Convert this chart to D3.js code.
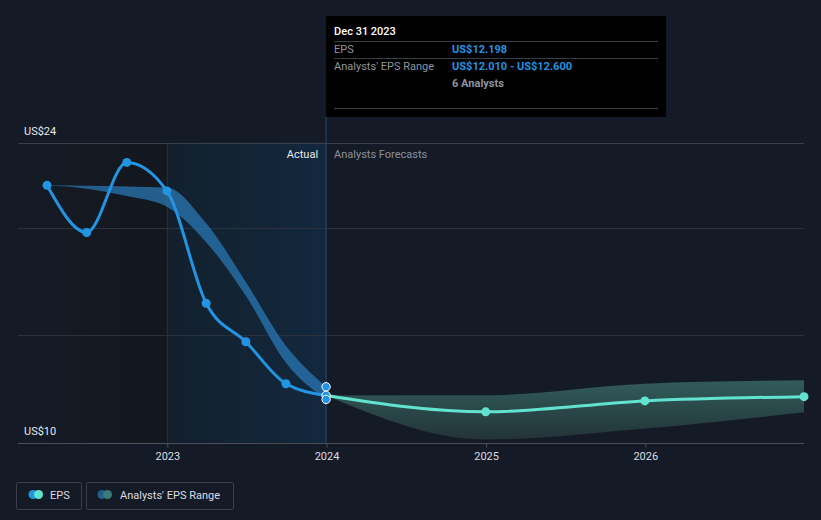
<!DOCTYPE html>
<html><head><meta charset="utf-8">
<script src="https://cdn.jsdelivr.net/npm/d3@7"></script>
<style>
html,body{margin:0;padding:0;background:#151b26;}
svg{display:block;font-family:Roboto,"Noto Sans",sans-serif;}
</style></head>
<body>
<svg id="c" width="821" height="520"></svg>
<script>
// ---- data ----
const pastDates = ["2022-03-31","2022-06-30","2022-09-30","2022-12-31","2023-03-31","2023-06-30","2023-09-30","2023-12-31"];
const pastEPS   = [22.0, 19.8, 23.07, 21.74, 16.5, 14.7, 12.74, 12.198];
const pastRangeLow  = [22.0, 21.84, 21.5, 21.0, 19.35, 16.85, 13.72, 12.01];
const pastRangeHigh = [22.0, 21.98, 21.95, 21.9, 20.23, 17.49, 14.51, 12.6];
const fcDates = ["2023-12-31","2024-12-31","2025-12-31","2026-12-31"];
const fcEPS   = [12.198, 11.43, 11.94, 12.14];
const fcLow   = [12.198, 10.14, 10.65, 11.41];
const fcHigh  = [12.198, 12.2, 12.74, 12.9];
const xTickYears = ["2023","2024","2025","2026"];
const yTicks = [10, 15, 20, 24];
const yLabels = ["US$24","US$10"];
const tipDate = "2023-12-31";
const tipMarkers = [12.6, 12.198, 12.01];

const parse = d3.timeParse("%Y-%m-%d");
const svg = d3.select("#c");
const x = d3.scaleTime().domain([parse("2022-03-31"), parse("2026-12-31")]).range([47, 804]);
const y = d3.scaleLinear().domain([10, 24]).range([442.5, 142.5]);
const left = 18, right = 804;
const tipX = x(parse(tipDate));

const defs = svg.append("defs");
const g1 = defs.append("linearGradient").attr("id","pastBg").attr("x1","0").attr("x2","1");
g1.append("stop").attr("offset","0").attr("stop-color","#151b25");
g1.append("stop").attr("offset","1").attr("stop-color","#13171e");
const g2 = defs.append("linearGradient").attr("id","actBg").attr("x1","0").attr("x2","1");
g2.append("stop").attr("offset","0").attr("stop-color","#12202d");
g2.append("stop").attr("offset","1").attr("stop-color","#13283e");
const g3 = defs.append("linearGradient").attr("id","fcBand").attr("x1","0").attr("x2","0").attr("y1","0").attr("y2","1");
g3.append("stop").attr("offset","0").attr("stop-color","#33605d");
g3.append("stop").attr("offset","1").attr("stop-color","#233538");

const x23 = x(parse("2023-01-01"));
// backgrounds
svg.append("rect").attr("x", left).attr("y", y(24)).attr("width", x23 - left).attr("height", y(10) - y(24)).attr("fill","url(#pastBg)");
svg.append("rect").attr("x", x23).attr("y", y(24)).attr("width", tipX - x23).attr("height", y(10) - y(24)).attr("fill","url(#actBg)");
svg.append("line").attr("x1", x23).attr("x2", x23).attr("y1", y(24)).attr("y2", y(10)).attr("stroke","#1d3550").attr("stroke-width",1);

// gridlines
yTicks.filter(v => v !== 10).forEach(v => {
  svg.append("line").attr("x1", left).attr("x2", right).attr("y1", Math.round(y(v))+0.5).attr("y2", Math.round(y(v))+0.5)
    .attr("stroke", v === 24 ? "#3a404b" : "#2a313c").attr("stroke-width",1);
});

// x axis
const xAxis = d3.axisBottom(x).tickValues(xTickYears.map(s => parse(s + "-01-01"))).tickFormat(d3.timeFormat("%Y")).tickSize(4).tickSizeOuter(0);
const ax = svg.append("g").attr("transform", `translate(0,${Math.round(y(10))+0.5})`).call(xAxis);
ax.select(".domain").remove();
ax.selectAll(".tick line").attr("stroke","#4a505b");
ax.selectAll(".tick text").attr("fill","#d9dce0").attr("font-size","11px").attr("font-family","Roboto,sans-serif").attr("dy","0.9em");
svg.append("line").attr("x1", left).attr("x2", right).attr("y1", Math.round(y(10))+0.5).attr("y2", Math.round(y(10))+0.5).attr("stroke","#4a505b");

// y labels
svg.append("text").attr("x",24).attr("y", y(24) - 8).attr("fill","#e6e8ea").attr("font-size","11px").text(yLabels[0]);
svg.append("text").attr("x",24).attr("y", y(10) - 8).attr("fill","#e6e8ea").attr("font-size","11px").text(yLabels[1]);

// tooltip vertical line
svg.append("line").attr("x1", tipX).attr("x2", tipX).attr("y1", 117).attr("y2", y(10)).attr("stroke","#2a4a6b").attr("stroke-width",1);

// labels Actual / Forecast
svg.append("text").attr("x", tipX - 8).attr("y", 158).attr("text-anchor","end").attr("fill","#e8eaec").attr("font-size","11px").text("Actual");
svg.append("text").attr("x", tipX + 8).attr("y", 158).attr("fill","#8b9099").attr("font-size","11px").text("Analysts Forecasts");

// bands
const area = d3.area().x(d => x(d.d)).y0(d => y(d.lo)).y1(d => y(d.hi)).curve(d3.curveMonotoneX);
const pastBand = pastDates.map((s,i) => ({d: parse(s), lo: pastRangeLow[i], hi: pastRangeHigh[i]}));
svg.append("path").datum(pastBand).attr("d", area).attr("fill","#2a7ab8").attr("fill-opacity",0.72);
const fcBand = fcDates.map((s,i) => ({d: parse(s), lo: fcLow[i], hi: fcHigh[i]}));
svg.append("path").datum(fcBand).attr("d", area).attr("fill","url(#fcBand)").attr("fill-opacity",0.95);

// lines
const line = d3.line().x(d => x(d.d)).y(d => y(d.v)).curve(d3.curveMonotoneX);
const pastPts = pastDates.map((s,i) => ({d: parse(s), v: pastEPS[i]}));
const fcPts = fcDates.map((s,i) => ({d: parse(s), v: fcEPS[i]}));
svg.append("path").datum(fcPts).attr("d", line).attr("fill","none").attr("stroke","#62e3cf").attr("stroke-width",3);
svg.append("path").datum(pastPts).attr("d", line).attr("fill","none").attr("stroke","#2394e1").attr("stroke-width",3);

svg.selectAll(".pp").data(pastPts.slice(0, -1)).enter().append("circle")
  .attr("cx", d => x(d.d)).attr("cy", d => y(d.v)).attr("r",4.5).attr("fill","#2394e1");
svg.selectAll(".fp").data(fcPts.slice(1)).enter().append("circle")
  .attr("cx", d => x(d.d)).attr("cy", d => y(d.v)).attr("r",4.5).attr("fill","#62e3cf");
svg.selectAll(".tp").data(tipMarkers).enter().append("circle")
  .attr("cx", tipX).attr("cy", d => y(d)).attr("r",4.2).attr("fill","#2394e1").attr("stroke","#ffffff").attr("stroke-width",1);

// tooltip box
const tb = svg.append("g");
tb.append("rect").attr("x", tipX).attr("y",16).attr("width",340).attr("height",101).attr("fill","#000000");
tb.append("text").attr("x", tipX+8).attr("y",35).attr("fill","#ffffff").attr("font-size","11px").attr("font-weight",500).text("Dec 31 2023");
[41.5, 58.5, 108.5].forEach(yy => tb.append("line").attr("x1", tipX+8).attr("x2", tipX+332).attr("y1",yy).attr("y2",yy).attr("stroke","#3b3e44"));
tb.append("text").attr("x", tipX+8).attr("y",53).attr("fill","#8f949b").attr("font-size","11px").text("EPS");
tb.append("text").attr("x", tipX+126).attr("y",53).attr("fill","#2394e1").attr("font-size","11px").attr("font-weight",700).text("US$12.198");
tb.append("text").attr("x", tipX+8).attr("y",70).attr("fill","#8f949b").attr("font-size","11px").text("Analysts' EPS Range");
tb.append("text").attr("x", tipX+126).attr("y",70).attr("fill","#2394e1").attr("font-size","11px").attr("font-weight",700).text("US$12.010 - US$12.600");
tb.append("text").attr("x", tipX+126).attr("y",87).attr("fill","#8f949b").attr("font-size","11px").attr("font-weight",700).text("6 Analysts");

// legend
const lg = svg.append("g");
lg.append("rect").attr("x",16.5).attr("y",482.5).attr("width",65).attr("height",27).attr("rx",2).attr("fill","none").attr("stroke","#3a404b");
lg.append("circle").attr("cx",33).attr("cy",494.5).attr("r",4.5).attr("fill","#2394e1");
lg.append("circle").attr("cx",38.5).attr("cy",494.5).attr("r",4.5).attr("fill","#62e3cf");
lg.append("text").attr("x",50).attr("y",498.5).attr("fill","#d9dce0").attr("font-size","11px").text("EPS");
lg.append("rect").attr("x",86.5).attr("y",482.5).attr("width",147).attr("height",27).attr("rx",2).attr("fill","none").attr("stroke","#3a404b");
lg.append("circle").attr("cx",102).attr("cy",494.5).attr("r",4.5).attr("fill","#245d8c");
lg.append("circle").attr("cx",107.5).attr("cy",494.5).attr("r",4.5).attr("fill","#3b7a76");
lg.append("text").attr("x",120).attr("y",498.5).attr("fill","#d9dce0").attr("font-size","11px").text("Analysts' EPS Range");
</script>
</body></html>
